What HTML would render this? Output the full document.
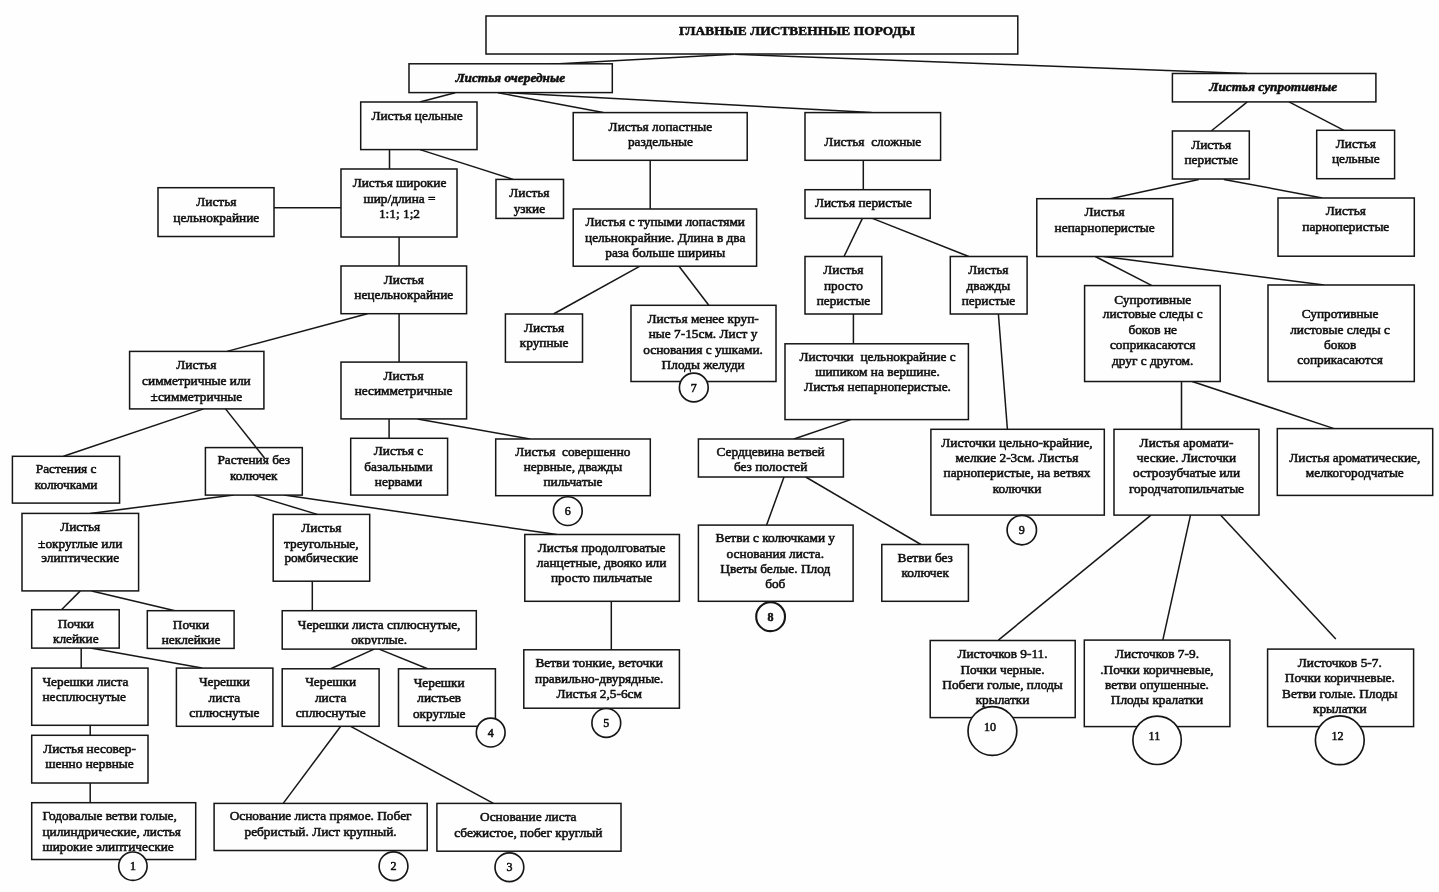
<!DOCTYPE html>
<html lang="ru"><head><meta charset="utf-8"><title>Главные лиственные породы</title>
<style>
html,body{margin:0;padding:0;background:#fefefe;}
body{width:1439px;height:892px;overflow:hidden;font-family:"Liberation Serif",serif;}
svg{display:block;}
text{font-family:"Liberation Serif",serif;font-size:13.33px;fill:#111;text-anchor:middle;white-space:pre;stroke:#111;stroke-width:0.55px;}
.b{font-weight:bold;letter-spacing:0.08px;}
.l{text-anchor:start;}
.bi{font-weight:bold;font-style:italic;}
.bx{fill:#fefefe;stroke:#161616;stroke-width:1.5;}
.ln{stroke:#161616;stroke-width:1.5;fill:none;}
.ci{fill:#fefefe;stroke:#161616;}
</style></head><body>
<svg width="1439" height="892" viewBox="0 0 1439 892">
<defs><filter id="sc" x="0" y="0" width="100%" height="100%" filterUnits="userSpaceOnUse"><feGaussianBlur stdDeviation="0.35"/></filter><clipPath id="ck"><rect x="283" y="630" width="193" height="14.5"/></clipPath></defs>
<rect x="0" y="0" width="1439" height="892" fill="#fefefe"/>

<g filter="url(#sc)">
<g class="ln">
<line x1="734" y1="54.3" x2="550" y2="64.2"/>
<line x1="735" y1="54.3" x2="1247" y2="73.5"/>
<line x1="455.2" y1="92.7" x2="419.8" y2="102"/>
<line x1="498" y1="92.7" x2="603.3" y2="112.6"/>
<line x1="508.4" y1="92.7" x2="871.5" y2="112.6"/>
<line x1="1247.3" y1="101.9" x2="1211.2" y2="131"/>
<line x1="1289" y1="101.9" x2="1344" y2="130.3"/>
<line x1="389.5" y1="149.6" x2="389.5" y2="169"/>
<line x1="420" y1="149.6" x2="513" y2="179.4"/>
<line x1="274" y1="207.7" x2="341" y2="207.7"/>
<line x1="399.1" y1="237" x2="399.1" y2="266"/>
<line x1="650.2" y1="160.3" x2="650.2" y2="209"/>
<line x1="863.3" y1="160.3" x2="863.3" y2="189.7"/>
<line x1="862.4" y1="218.4" x2="844" y2="256.5"/>
<line x1="872.4" y1="218.4" x2="968.8" y2="256.5"/>
<line x1="1198.8" y1="179.4" x2="1110.3" y2="198.7"/>
<line x1="1223.9" y1="179.4" x2="1322.4" y2="198"/>
<line x1="1095.3" y1="256.5" x2="1152" y2="285.6"/>
<line x1="1103.6" y1="256.5" x2="1324" y2="285"/>
<line x1="367.4" y1="313.7" x2="227.1" y2="351.4"/>
<line x1="399.1" y1="313.7" x2="399.1" y2="362.1"/>
<line x1="640" y1="266.2" x2="553.5" y2="314"/>
<line x1="679" y1="266.2" x2="708.8" y2="305.3"/>
<line x1="853.4" y1="314" x2="853.4" y2="343.8"/>
<line x1="998.4" y1="314" x2="1007.4" y2="429.3"/>
<line x1="1181.5" y1="381.5" x2="1181.5" y2="429.3"/>
<line x1="1192.2" y1="381.5" x2="1334.1" y2="428.6"/>
<line x1="203.7" y1="408.9" x2="63.5" y2="456.3"/>
<line x1="389.1" y1="418.9" x2="389.1" y2="438.3"/>
<line x1="417.5" y1="418.9" x2="530" y2="439"/>
<line x1="850.7" y1="419.6" x2="794" y2="439"/>
<line x1="233.8" y1="495.1" x2="90.2" y2="513.4"/>
<line x1="253.8" y1="495.1" x2="317.3" y2="514.4"/>
<line x1="283.9" y1="495.1" x2="556.8" y2="534.5"/>
<line x1="784" y1="477" x2="766.6" y2="525.1"/>
<line x1="805.7" y1="477" x2="920.9" y2="544.5"/>
<line x1="80.3" y1="590.9" x2="61.5" y2="609.7"/>
<line x1="91.7" y1="590.9" x2="175" y2="610.7"/>
<line x1="312.3" y1="581.2" x2="312.3" y2="610.7"/>
<line x1="611.3" y1="601.3" x2="611.3" y2="649.8"/>
<line x1="81.2" y1="648.1" x2="81.2" y2="668.1"/>
<line x1="90.5" y1="648.1" x2="202" y2="668.1"/>
<line x1="374.1" y1="649.1" x2="330.7" y2="668.8"/>
<line x1="379.1" y1="649.1" x2="427.5" y2="668.8"/>
<line x1="90.2" y1="725.3" x2="90.2" y2="735.3"/>
<line x1="90.2" y1="783" x2="90.2" y2="802.7"/>
<line x1="340.7" y1="726.3" x2="283.2" y2="803.4"/>
<line x1="350.7" y1="726.3" x2="493.4" y2="803.4"/>
<line x1="1151" y1="515.1" x2="998.4" y2="640.1"/>
<line x1="1190.5" y1="515.1" x2="1162.8" y2="640.1"/>
<line x1="1220.5" y1="515.1" x2="1335.8" y2="639.1"/>
</g>
<g>
<rect class="bx" x="486" y="16" width="531.8" height="38"/>
<rect class="bx" x="409" y="63.8" width="203.3" height="28.8"/>
<rect class="bx" x="1172.4" y="73.5" width="203.5" height="28.4"/>
<rect class="bx" x="360.7" y="102" width="116.3" height="47.6"/>
<rect class="bx" x="573.2" y="112.6" width="174.0" height="47.7"/>
<rect class="bx" x="805" y="112.6" width="135.6" height="47.7"/>
<rect class="bx" x="1172.4" y="131" width="76.9" height="48"/>
<rect class="bx" x="1316.7" y="130.3" width="77.9" height="48.4"/>
<rect class="bx" x="158" y="187.7" width="116" height="48.8"/>
<rect class="bx" x="341" y="169" width="116" height="68"/>
<rect class="bx" x="496" y="179.4" width="67.5" height="39.0"/>
<rect class="bx" x="573.2" y="209" width="183.4" height="57.2"/>
<rect class="bx" x="805" y="189.7" width="125.2" height="28.7"/>
<rect class="bx" x="1036.8" y="198.7" width="136.0" height="57.8"/>
<rect class="bx" x="1278" y="198" width="136.3" height="58.2"/>
<rect class="bx" x="341" y="266" width="125.6" height="47.7"/>
<rect class="bx" x="805" y="256.5" width="76.8" height="57.5"/>
<rect class="bx" x="950.3" y="256.5" width="76.8" height="57.5"/>
<rect class="bx" x="1084.6" y="285.6" width="135.6" height="95.9"/>
<rect class="bx" x="1268" y="285" width="146.3" height="96.5"/>
<rect class="bx" x="505.4" y="314" width="77.1" height="48.1"/>
<rect class="bx" x="631" y="305.3" width="145" height="76.2"/>
<rect class="bx" x="129.6" y="351.4" width="134.3" height="57.5"/>
<rect class="bx" x="341" y="362.1" width="125.6" height="56.8"/>
<rect class="bx" x="785" y="343.8" width="183.4" height="75.8"/>
<rect class="bx" x="12.4" y="456.3" width="107.2" height="46.8"/>
<rect class="bx" x="205.4" y="447.6" width="96.9" height="47.5"/>
<rect class="bx" x="350.7" y="438.3" width="96.9" height="56.8"/>
<rect class="bx" x="495.7" y="439" width="154.6" height="56.7"/>
<rect class="bx" x="698.4" y="439" width="145.0" height="38"/>
<rect class="bx" x="930.9" y="429.3" width="173.4" height="85.8"/>
<rect class="bx" x="1114" y="429.3" width="145" height="85.8"/>
<rect class="bx" x="1277.3" y="428.6" width="155.4" height="66.8"/>
<rect class="bx" x="22" y="513.4" width="116.6" height="77.5"/>
<rect class="bx" x="273.2" y="514.4" width="96.5" height="66.8"/>
<rect class="bx" x="524.8" y="534.5" width="154.6" height="66.8"/>
<rect class="bx" x="698.4" y="525.1" width="154.7" height="76.2"/>
<rect class="bx" x="881.8" y="544.5" width="86.6" height="56.8"/>
<rect class="bx" x="31.7" y="609.7" width="87.5" height="38.4"/>
<rect class="bx" x="147.3" y="610.7" width="86.8" height="37.7"/>
<rect class="bx" x="282.2" y="610.7" width="194.1" height="38.4"/>
<rect class="bx" x="31.7" y="668.1" width="116.3" height="57.2"/>
<rect class="bx" x="176.4" y="668.1" width="96.5" height="58.2"/>
<rect class="bx" x="282.2" y="668.8" width="96.9" height="57.5"/>
<rect class="bx" x="398.5" y="668.8" width="96.9" height="57.5"/>
<rect class="bx" x="523.8" y="649.8" width="155.6" height="58.4"/>
<rect class="bx" x="31.7" y="735.3" width="116.3" height="47.7"/>
<rect class="bx" x="31.7" y="802.7" width="164.0" height="56.8"/>
<rect class="bx" x="214.1" y="803.4" width="213.1" height="47.1"/>
<rect class="bx" x="436.9" y="803.4" width="184.1" height="47.8"/>
<rect class="bx" x="930.2" y="640.5" width="145.0" height="77.1"/>
<rect class="bx" x="1084.3" y="640.1" width="145.6" height="86.5"/>
<rect class="bx" x="1267.6" y="649.1" width="146.0" height="77.5"/>
</g>
<line class="ln" x1="225.5" y1="408.9" x2="264.5" y2="458"/>
<g>
<circle class="ci" cx="132.9" cy="866.2" r="14.2" stroke-width="1.65"/>
<circle class="ci" cx="393.5" cy="866.2" r="14.4" stroke-width="1.65"/>
<circle class="ci" cx="509.4" cy="867.2" r="14.4" stroke-width="1.65"/>
<circle class="ci" cx="490.7" cy="732.6" r="14.4" stroke-width="1.65"/>
<circle class="ci" cx="606.3" cy="722.9" r="14.4" stroke-width="1.65"/>
<circle class="ci" cx="567.8" cy="511.1" r="14.4" stroke-width="1.65"/>
<circle class="ci" cx="693.8" cy="387.5" r="14.4" stroke-width="1.65"/>
<circle class="ci" cx="770.6" cy="616.7" r="14.4" stroke-width="2.1"/>
<circle class="ci" cx="1021.8" cy="530.1" r="14.7" stroke-width="1.65"/>
<circle class="ci" cx="992.4" cy="731" r="24.4" stroke-width="1.65"/>
<circle class="ci" cx="1157.1" cy="740.3" r="24.2" stroke-width="1.65"/>
<circle class="ci" cx="1339.8" cy="740.3" r="24.4" stroke-width="1.65"/>
</g>
<g>
<text class="b" x="797" y="34.8" xml:space="preserve">ГЛАВНЫЕ ЛИСТВЕННЫЕ ПОРОДЫ</text>
<text class="bi" x="510.3" y="81.8" xml:space="preserve">Листья очередные</text>
<text class="bi" x="1273.2" y="90.9" xml:space="preserve">Листья супротивные</text>
<text x="417" y="119.6" xml:space="preserve">Листья цельные</text>
<text x="660.4" y="130.7" xml:space="preserve">Листья лопастные</text>
<text x="660.4" y="146.0" xml:space="preserve">раздельные</text>
<text x="872.8" y="146.0" xml:space="preserve">Листья  сложные</text>
<text x="1211.2" y="149.0" xml:space="preserve">Листья</text>
<text x="1211.2" y="164.1" xml:space="preserve">перистые</text>
<text x="1355.8" y="148.4" xml:space="preserve">Листья</text>
<text x="1355.8" y="163.4" xml:space="preserve">цельные</text>
<text x="216.3" y="205.8" xml:space="preserve">Листья</text>
<text x="216.3" y="221.5" xml:space="preserve">цельнокрайние</text>
<text x="399.5" y="187.4" xml:space="preserve">Листья широкие</text>
<text x="399.5" y="203.1" xml:space="preserve">шир/длина =</text>
<text x="399.5" y="218.2" xml:space="preserve">1:1; 1;2</text>
<text x="529.4" y="197.4" xml:space="preserve">Листья</text>
<text x="529.4" y="212.8" xml:space="preserve">узкие</text>
<text x="665.2" y="226.2" xml:space="preserve">Листья с тупыми лопастями</text>
<text x="665.2" y="241.9" xml:space="preserve">цельнокрайние. Длина в два</text>
<text x="665.2" y="257.2" xml:space="preserve">раза больше ширины</text>
<text x="863.4" y="206.5" xml:space="preserve">Листья перистые</text>
<text x="1104.6" y="215.9" xml:space="preserve">Листья</text>
<text x="1104.6" y="231.6" xml:space="preserve">непарноперистые</text>
<text x="1345.8" y="215.2" xml:space="preserve">Листья</text>
<text x="1345.8" y="230.9" xml:space="preserve">парноперистые</text>
<text x="403.8" y="283.6" xml:space="preserve">Листья</text>
<text x="403.8" y="298.7" xml:space="preserve">нецельнокрайние</text>
<text x="843.4" y="274.3" xml:space="preserve">Листья</text>
<text x="843.4" y="289.6" xml:space="preserve">просто</text>
<text x="843.4" y="305.0" xml:space="preserve">перистые</text>
<text x="988.4" y="274.3" xml:space="preserve">Листья</text>
<text x="988.4" y="289.7" xml:space="preserve">дважды</text>
<text x="988.4" y="305.0" xml:space="preserve">перистые</text>
<text x="1152.7" y="303.6" xml:space="preserve">Супротивные</text>
<text x="1152.7" y="318.4" xml:space="preserve">листовые следы с</text>
<text x="1152.7" y="333.8" xml:space="preserve">боков не</text>
<text x="1152.7" y="349.2" xml:space="preserve">соприкасаются</text>
<text x="1152.7" y="364.5" xml:space="preserve">друг с другом.</text>
<text x="1340.1" y="317.8" xml:space="preserve">Супротивные</text>
<text x="1340.1" y="333.5" xml:space="preserve">листовые следы с</text>
<text x="1340.1" y="348.5" xml:space="preserve">боков</text>
<text x="1340.1" y="363.9" xml:space="preserve">соприкасаются</text>
<text x="544.1" y="331.8" xml:space="preserve">Листья</text>
<text x="544.1" y="347.2" xml:space="preserve">крупные</text>
<text x="703.1" y="322.8" xml:space="preserve">Листья менее круп-</text>
<text x="703.1" y="337.8" xml:space="preserve">ные 7-15см. Лист у</text>
<text x="703.1" y="353.5" xml:space="preserve">основания с ушками.</text>
<text x="703.1" y="368.5" xml:space="preserve">Плоды желуди</text>
<text x="196.4" y="369.2" xml:space="preserve">Листья</text>
<text x="196.4" y="384.6" xml:space="preserve">симметричные или</text>
<text x="196.4" y="400.6" xml:space="preserve">±симметричные</text>
<text x="403.5" y="379.6" xml:space="preserve">Листья</text>
<text x="403.5" y="395.3" xml:space="preserve">несимметричные</text>
<text x="877.5" y="361.2" xml:space="preserve">Листочки  цельнокрайние с</text>
<text x="877.5" y="376.2" xml:space="preserve">шипиком на вершине.</text>
<text x="877.5" y="391.3" xml:space="preserve">Листья непарноперистые.</text>
<text x="66.1" y="473.4" xml:space="preserve">Растения с</text>
<text x="66.1" y="488.8" xml:space="preserve">колючками</text>
<text x="253.8" y="464.4" xml:space="preserve">Растения без</text>
<text x="253.8" y="479.8" xml:space="preserve">колючек</text>
<text x="398.5" y="455.4" xml:space="preserve">Листья с</text>
<text x="398.5" y="470.7" xml:space="preserve">базальными</text>
<text x="398.5" y="486.1" xml:space="preserve">нервами</text>
<text x="572.9" y="456.1" xml:space="preserve">Листья  совершенно</text>
<text x="572.9" y="471.4" xml:space="preserve">нервные, дважды</text>
<text x="572.9" y="486.4" xml:space="preserve">пильчатые</text>
<text x="770.6" y="456.1" xml:space="preserve">Сердцевина ветвей</text>
<text x="770.6" y="471.4" xml:space="preserve">без полостей</text>
<text x="1017" y="447.0" xml:space="preserve">Листочки цельно-крайние,</text>
<text x="1017" y="462.1" xml:space="preserve">мелкие 2-3см. Листья</text>
<text x="1017" y="477.1" xml:space="preserve">парноперистые, на ветвях</text>
<text x="1017" y="492.5" xml:space="preserve">колючки</text>
<text x="1186.5" y="447.0" xml:space="preserve">Листья аромати-</text>
<text x="1186.5" y="462.1" xml:space="preserve">ческие. Листочки</text>
<text x="1186.5" y="477.1" xml:space="preserve">острозубчатые или</text>
<text x="1186.5" y="492.5" xml:space="preserve">городчатопильчатые</text>
<text x="1354.8" y="462.1" xml:space="preserve">Листья ароматические,</text>
<text x="1354.8" y="477.1" xml:space="preserve">мелкогородчатые</text>
<text x="80.2" y="531.2" xml:space="preserve">Листья</text>
<text x="80.2" y="547.6" xml:space="preserve">±округлые или</text>
<text x="80.2" y="562.3" xml:space="preserve">элиптические</text>
<text x="321.3" y="531.5" xml:space="preserve">Листья</text>
<text x="321.3" y="547.6" xml:space="preserve">треугольные,</text>
<text x="321.3" y="562.3" xml:space="preserve">ромбические</text>
<text x="601.6" y="551.6" xml:space="preserve">Листья продолговатые</text>
<text x="601.6" y="567.3" xml:space="preserve">ланцетные, двояко или</text>
<text x="601.6" y="582.3" xml:space="preserve">просто пильчатые</text>
<text x="775.3" y="542.2" xml:space="preserve">Ветви с колючками у</text>
<text x="775.3" y="557.6" xml:space="preserve">основания листа.</text>
<text x="775.3" y="573.0" xml:space="preserve">Цветы белые. Плод</text>
<text x="775.3" y="587.7" xml:space="preserve">боб</text>
<text x="925.2" y="561.6" xml:space="preserve">Ветви без</text>
<text x="925.2" y="577.0" xml:space="preserve">колючек</text>
<text x="75.8" y="627.8" xml:space="preserve">Почки</text>
<text x="75.8" y="642.8" xml:space="preserve">клейкие</text>
<text x="191" y="628.5" xml:space="preserve">Почки</text>
<text x="191" y="643.5" xml:space="preserve">неклейкие</text>
<text x="379.1" y="628.8" xml:space="preserve">Черешки листа сплюснутые,</text>
<text clip-path="url(#ck)" x="379.1" y="644.0" xml:space="preserve">округлые.</text>
<text class="l" x="42.4" y="685.6" xml:space="preserve">Черешки листа</text>
<text class="l" x="42.4" y="700.9" xml:space="preserve">несплюснутые</text>
<text x="224.4" y="686.2" xml:space="preserve">Черешки</text>
<text x="224.4" y="701.6" xml:space="preserve">листа</text>
<text x="224.4" y="717.0" xml:space="preserve">сплюснутые</text>
<text x="330.7" y="686.2" xml:space="preserve">Черешки</text>
<text x="330.7" y="701.6" xml:space="preserve">листа</text>
<text x="330.7" y="717.0" xml:space="preserve">сплюснутые</text>
<text x="439.2" y="686.9" xml:space="preserve">Черешки</text>
<text x="439.2" y="702.3" xml:space="preserve">листьев</text>
<text x="439.2" y="717.6" xml:space="preserve">округлые</text>
<text x="599.2" y="667.2" xml:space="preserve">Ветви тонкие, веточки</text>
<text x="599.2" y="682.9" xml:space="preserve">правильно-двурядные.</text>
<text x="599.2" y="697.9" xml:space="preserve">Листья 2,5-6см</text>
<text x="89.5" y="753.1" xml:space="preserve">Листья несовер-</text>
<text x="89.5" y="768.4" xml:space="preserve">шенно нервные</text>
<text class="l" x="42.4" y="819.5" xml:space="preserve">Годовалые ветви голые,</text>
<text class="l" x="42.4" y="835.5" xml:space="preserve">цилиндрические, листья</text>
<text class="l" x="42.4" y="850.9" xml:space="preserve">широкие элиптические</text>
<text x="320.6" y="820.2" xml:space="preserve">Основание листа прямое. Побег</text>
<text x="320.6" y="835.5" xml:space="preserve">ребристый. Лист крупный.</text>
<text x="528.3" y="821.4" xml:space="preserve">Основание листа</text>
<text x="528.3" y="836.9" xml:space="preserve">сбежистое, побег круглый</text>
<text x="1002.5" y="657.9" xml:space="preserve">Листочков 9-11.</text>
<text x="1002.5" y="673.6" xml:space="preserve">Почки черные.</text>
<text x="1002.5" y="688.6" xml:space="preserve">Побеги голые, плоды</text>
<text x="1002.5" y="704.0" xml:space="preserve">крылатки</text>
<text x="1157" y="657.9" xml:space="preserve">Листочков 7-9.</text>
<text x="1157" y="673.6" xml:space="preserve">.Почки коричневые,</text>
<text x="1157" y="688.6" xml:space="preserve">ветви опушенные.</text>
<text x="1157" y="704.0" xml:space="preserve">Плоды кралатки</text>
<text x="1339.8" y="666.9" xml:space="preserve">Листочков 5-7.</text>
<text x="1339.8" y="682.2" xml:space="preserve">Почки коричневые.</text>
<text x="1339.8" y="697.9" xml:space="preserve">Ветви голые. Плоды</text>
<text x="1339.8" y="713.3" xml:space="preserve">крылатки</text>
<text x="132.9" y="870.4" style="font-size:12px">1</text>
<text x="393.5" y="870.4" style="font-size:12px">2</text>
<text x="509.4" y="871.4" style="font-size:12px">3</text>
<text x="490.7" y="736.8" style="font-size:12px">4</text>
<text x="606.3" y="727.1" style="font-size:12px">5</text>
<text x="567.8" y="515.3" style="font-size:12px">6</text>
<text x="693.8" y="391.7" style="font-size:12px">7</text>
<text class="b" x="770.6" y="620.9" style="font-size:12px">8</text>
<text x="1021.8" y="534.3" style="font-size:12px">9</text>
<text x="990" y="730.5" style="font-size:12px">10</text>
<text x="1154.4" y="740.2" style="font-size:12px">11</text>
<text x="1337.5" y="740.2" style="font-size:12px">12</text>
</g>
</g>
</svg></body></html>
